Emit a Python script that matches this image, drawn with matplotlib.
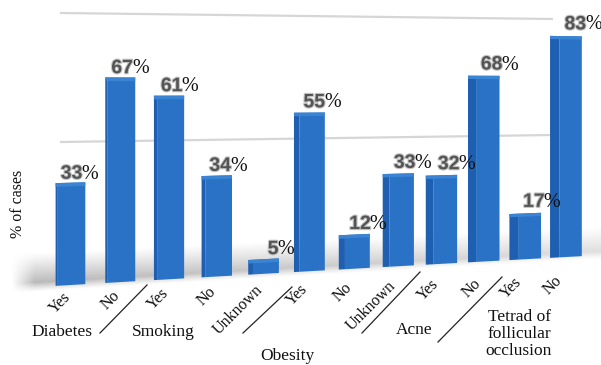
import numpy as np
import matplotlib
matplotlib.use("Agg")
import matplotlib.pyplot as plt
import matplotlib.patheffects as pe
from matplotlib.transforms import Transform

# ---- data -------------------------------------------------------------
groups = ["Diabetes", "Smoking", "Obesity", "Acne",
          "Tetrad of\nfollicular\nocclusion"]
group_sizes = [2, 3, 3, 2, 2]
answers = ["Yes", "No", "Yes", "No", "Unknown", "Yes", "No", "Unknown",
           "Yes", "No", "Yes", "No"]
percent = [33, 67, 61, 34, 5, 55, 12, 33, 32, 68, 17, 83]
grid_levels = [50, 100]


# ---- a simple perspective projection: (bar index, percent) -> pixels --------
class Perspective(Transform):
    input_dims = output_dims = 2
    is_separable = False
    has_inverse = False

    def __init__(self, a, b, cx, d, e, s, cy):
        super().__init__()
        self.a, self.b, self.cx = a, b, cx
        self.d, self.e, self.s, self.cy = d, e, s, cy

    def transform_non_affine(self, values):
        arr = np.asarray(values, dtype=float)
        flat = arr.ndim == 1
        xy = np.atleast_2d(arr)
        i, v = xy[:, 0], xy[:, 1]
        px = (self.a * i + self.b) / (1.0 + self.cx * i)
        py = (self.d * i + self.e - self.s * v) / (1.0 + self.cy * i)
        out = np.column_stack([px, py])
        return out[0] if flat else out

    def to_index_value(self, px, py):
        i = (px - self.b) / (self.a - self.cx * px)
        v = (self.d * i + self.e - py * (1.0 + self.cy * i)) / self.s
        return i, v


W, H = 601, 365
fig = plt.figure(figsize=(W / 100, H / 100), dpi=100)
ax = fig.add_axes([0, 0, 1, 1])

proj = Perspective(51.1, 70.5, 0.0107, 1.31, 285.0, 3.1, 0.015)
front = proj + ax.transData
wall = Perspective(50.4, 60.0, 0.0101, 0.74, 271.0, 2.58, 0.0102) + ax.transData

idx = np.arange(len(percent))
n = len(percent)

# ---- back wall gridlines ---------------------------------------------------
for g in grid_levels:
    ax.plot([0, n - 1], [g, g], color="#d6d6d6", lw=1.6,
            solid_capstyle="butt", transform=wall, zorder=1)

# ---- soft grey floor, shaded per pixel in the projected plane ------------------
gx, gy = np.meshgrid(np.arange(W) + 0.5, np.arange(H) + 0.5)
fi, fv = proj.to_index_value(gx, gy)
prof = np.where(fv < 1.5,
                np.clip((fv + 1.5) / 3.0, 0, 1) ** 1.2,
                np.clip(1.0 - (fv - 1.5) / 9.5, 0, 1) ** 1.1)
left_edge = np.clip((fi + 1.15) / 0.45, 0, 1)
right_edge = np.clip((n + 0.6 - fi) / 0.6, 0, 1)
fade = 1.0 - 0.55 * np.clip((fi + 1.0) / (n + 1.0), 0, 1)
alpha = 0.5 * prof * fade * left_edge * right_edge
rgba = np.zeros((H, W, 4))
rgba[..., :3] = 0.45
rgba[..., 3] = alpha
ax.imshow(rgba, extent=(0, W, H, 0), origin="upper", aspect="auto",
          interpolation="bilinear", zorder=2)

# ---- bars with a little 3-D shading ---------------------------------------------
bw = 0.56
side = 0.03 + 0.018 * idx
left = idx - (bw + side) / 2
ax.bar(left + side + bw / 2, percent, width=bw, color="#2a72c6",
       transform=front, zorder=3, linewidth=0)
ax.bar(left + side / 2, percent, width=side, color="#1f5fb2",
       transform=front, zorder=3, linewidth=0)
ax.bar(idx, 1.2, bottom=np.array(percent) - 1.2, width=bw + side,
       color="#3b84d3", transform=front, zorder=4, linewidth=0)

# ---- value labels --------------------------------------------------------
for i, v in zip(idx, percent):
    off = (12 + 0.75 * i, 4 + 0.25 * i)
    ax.annotate(f"{v}", xy=(i, v), xycoords=front, xytext=off,
                textcoords="offset pixels", ha="right", va="baseline",
                fontsize=14, fontweight="bold", family="Liberation Sans",
                color="#545454", zorder=6,
                path_effects=[pe.withStroke(linewidth=1.6,
                                            foreground="#c4c4c4")])
    ax.annotate("%", xy=(i, v), xycoords=front, xytext=(off[0] - 1, off[1]),
                textcoords="offset pixels", ha="left", va="baseline",
                fontsize=14.5, family="Liberation Serif", color="#111111",
                zorder=6)

# ---- category tick labels ------------------------------------------------------
for i, lab in zip(idx, answers):
    ax.annotate(lab, xy=(i, 0), xycoords=front,
                xytext=(-(7.5 + 0.4 * i), -(4 + 1.1 * i)),
                textcoords="offset pixels", rotation=45,
                rotation_mode="anchor", ha="right", va="top",
                fontsize=11.5, family="Liberation Serif", color="#111111")

# ---- group separators and names ---------------------------------------------
sep_lines = [((147, 285), (100, 333)), ((292, 287), (243, 333)),
             ((420, 272), (362, 333)), ((502, 277), (438, 342))]
for (x0, y0), (x1, y1) in sep_lines:
    ax.plot([x0, x1], [y0, y1], color="#222222", lw=0.9)

group_pos = [(62, 332), (163, 332), (287, 356), (414, 330), (519, 334)]
for name, (tx, ty) in zip(groups, group_pos):
    ax.text(tx, ty, name, ha="center", va="center", fontsize=12.5,
            family="Liberation Serif", color="#111111", linespacing=1.1)

ax.text(18, 204, "% of cases", rotation=90, ha="center", va="center",
        fontsize=11.5, family="Liberation Serif", color="#111111")

ax.set_xlim(0, W)
ax.set_ylim(H, 0)
ax.axis("off")
fig.savefig("out.png", dpi=100, facecolor="white")
